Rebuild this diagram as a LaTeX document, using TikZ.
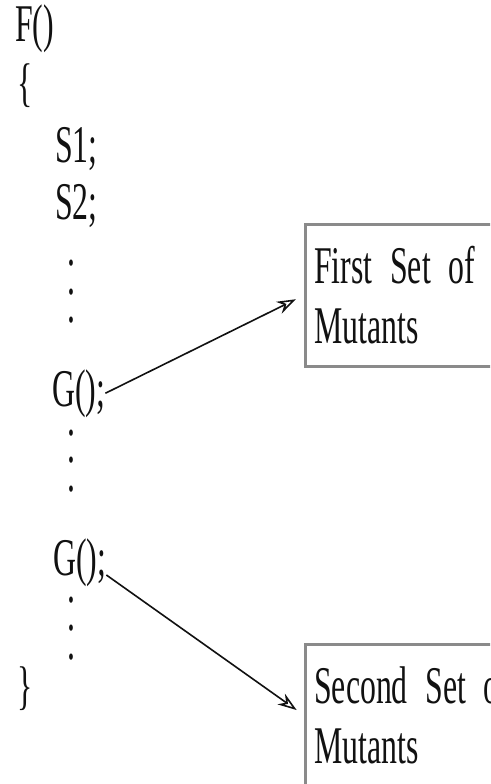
\documentclass[tikz,border=0pt]{standalone}
\usepackage{fontspec}
\setmainfont[FakeStretch=0.6]{Liberation Serif}
\usetikzlibrary{arrows.meta}
\definecolor{ink}{HTML}{111111}
\definecolor{frame}{HTML}{8A8A8A}
\newcommand\tightspaces{\spaceskip=4.5pt\relax\xspaceskip=4.5pt\relax}

\begin{document}
\begin{tikzpicture}[x=1pt,y=-1pt,text=ink,
  code/.style={anchor=base west,inner sep=0pt,font=\fontsize{53}{60}\selectfont},
  vdot/.style={inner sep=0pt,font=\fontsize{53}{60}\selectfont},
  setbox/.style={draw=frame,line width=2.5pt,anchor=north west,align=left,
    minimum width=230pt,minimum height=142pt,inner xsep=9pt,text width=230pt,
    font=\fontsize{53}{60}\selectfont\tightspaces},
  mutarrow/.style={-{Stealth[open,length=19pt,width=13pt]},draw=ink,line width=1.6pt,shorten >=9pt}]
  \clip (0,0) rectangle (490,784);
  \fill[white] (0,0) rectangle (490,784);

  % the function body
  \node[code] (f) at (15,42) {F()};
  \node[code] (lbrace) at (17,100) {\{};
  \node[code] (s1) at (55,162) {S1;};
  \node[code] (s2) at (55,219) {S2;};
  \foreach \y [count=\i] in {263,292,320}
    \node[vdot] (da\i) at (71,\y) {.};
  \node[code] (g1) at (52,406) {G();};
  \foreach \y [count=\i] in {433,460,489}
    \node[vdot] (db\i) at (71,\y) {.};
  \node[code] (g2) at (53,575) {G();};
  \foreach \y [count=\i] in {600,628,657}
    \node[vdot] (dc\i) at (71,\y) {.};
  \node[code] (rbrace) at (17,703) {\}};

  % mutant sets
  \node[setbox] (first) at (304,223) {First Set of\\Mutants};
  \node[setbox] (second) at (304,643) {Second Set of\\Mutants};

  \draw[mutarrow] (g1.east) -- (first.west);
  \draw[mutarrow] (g2.base east) -- (second.west);
\end{tikzpicture}
\end{document}
